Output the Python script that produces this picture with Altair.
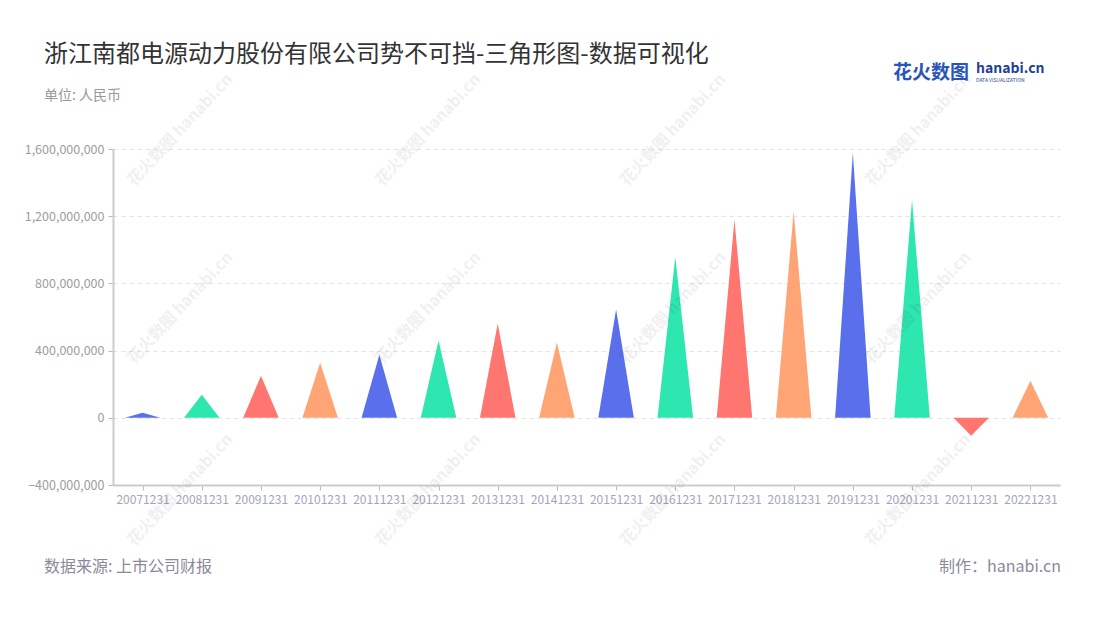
import altair as alt
import pandas as pd

categories = ["20071231", "20081231", "20091231", "20101231", "20111231", "20121231",
              "20131231", "20141231", "20151231", "20161231", "20171231", "20181231",
              "20191231", "20201231", "20211231", "20221231"]
values = [30e6, 137e6, 250e6, 328e6, 376e6, 460e6, 561e6, 448e6, 645e6, 957e6,
          1180e6, 1230e6, 1576e6, 1296e6, -107e6, 221e6]
palette = ["#5a6fec", "#2ee6b0", "#ff7671", "#ffa474"]
y_ticks = [-400e6, 0, 400e6, 800e6, 1200e6, 1600e6]

FONT = "Noto Sans CJK SC"
HALF = 0.3

rows = []
for i, (c, v) in enumerate(zip(categories, values)):
    g = str(i % 4)
    rows.append({"cat": c, "idx": i - HALF, "val": 0.0, "grp": g})
    rows.append({"cat": c, "idx": float(i), "val": v, "grp": g})
    rows.append({"cat": c, "idx": i + HALF, "val": 0.0, "grp": g})
df = pd.DataFrame(rows)

label_arr = "[" + ",".join("'%s'" % c for c in categories) + "]"

W, H = 947, 336

tri = alt.Chart(df).mark_area(interpolate="linear").encode(
    x=alt.X("idx:Q", scale=alt.Scale(domain=[-0.5, len(categories) - 0.5], nice=False, zero=False),
            axis=alt.Axis(values=list(range(len(categories))), labelExpr=label_arr + "[datum.value]",
                          title=None, grid=False, domainColor="#cccccc", domainWidth=2,
                          tickColor="#bbbbbb", tickSize=5, labelColor="#a2a6ba", labelFontSize=12,
                          labelFont=FONT, labelPadding=4, labelOverlap=False, labelFlush=False)),
    y=alt.Y("val:Q", stack=None,
            scale=alt.Scale(domain=[-400e6, 1600e6], nice=False),
            axis=alt.Axis(values=y_ticks, format=",d", title=None, grid=True,
                          gridDash=[4, 4], gridColor="#e3e3e3", gridWidth=1,
                          domainColor="#cccccc", domainWidth=2, tickColor="#bbbbbb",
                          tickSize=5, labelColor="#9d9d9d", labelFontSize=12.5,
                          labelFont=FONT, labelPadding=4)),
    color=alt.Color("grp:N", scale=alt.Scale(domain=["0", "1", "2", "3"], range=palette), legend=None),
    detail="cat:N",
)

# watermarks (decorative)
wm_rows = []
for cy in [130, 308, 490]:
    for cx in [180, 428, 673, 918]:
        wm_rows.append({"px": cx - 113, "py": cy - 149, "t": "花火数图 hanabi.cn"})
wm = alt.Chart(pd.DataFrame(wm_rows)).mark_text(
    font=FONT, fontSize=16, fontWeight="bold", color="#000000", opacity=0.055,
    angle=313, align="center", baseline="middle"
).encode(x=alt.X("px:Q", scale=None, axis=None), y=alt.Y("py:Q", scale=None, axis=None), text="t:N")

one = pd.DataFrame({"a": [0]})

def txt(s, x, y, size, color, weight="normal", align="left", baseline="middle"):
    return alt.Chart(one).mark_text(
        text=s, font=FONT, fontSize=size, color=color, fontWeight=weight,
        align=align, baseline=baseline
    ).encode(x=alt.value(x), y=alt.value(y))

title = txt("浙江南都电源动力股份有限公司势不可挡-三角形图-数据可视化", 44 - 113, 55 - 149, 24, "#333333")
sub = txt("单位: 人民币", 44 - 113, 96 - 149, 14, "#999999")
foot_l = txt("数据来源: 上市公司财报", 44 - 113, 567 - 149, 16, "#8a8a99")
foot_r = txt("制作：hanabi.cn", 1061 - 113, 567 - 149, 16, "#8a8a99", align="right")
logo1 = txt("花火数图", 893 - 113, 73 - 149, 19, "#2a55b8", weight="bold")
logo2 = txt("hanabi.cn", 976 - 113, 69 - 149, 14, "#1f3f9a", weight="bold")
logo3 = txt("DATA VISUALIZATION", 976 - 113, 80 - 149, 5, "#1f3f9a")

chart = alt.layer(tri, wm, title, sub, foot_l, foot_r, logo1, logo2, logo3).resolve_scale(
    x="independent", y="independent"
).properties(
    width=W, height=H,
    autosize=alt.AutoSizeParams(type="none"),
    padding={"left": 105, "top": 141, "right": 24, "bottom": 110},
).configure(background="white", view=alt.ViewConfig(stroke=None))

chart.save("out.html", embed_options={"renderer": "svg", "actions": False})
